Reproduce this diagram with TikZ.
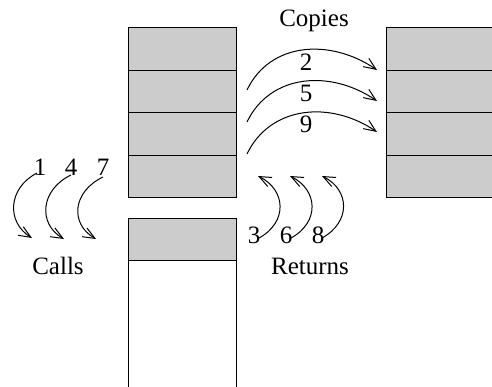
\documentclass[tikz,border=0pt]{standalone}
\usepackage{fontspec}
\setmainfont{Liberation Serif}
\usetikzlibrary{arrows.meta}
\definecolor{stackgray}{RGB}{204,204,204}

\begin{document}
\begin{tikzpicture}[
    x=1pt,y=-1pt,
    cell/.style={draw,fill=stackgray,line width=0.8pt,anchor=north west,inner sep=0pt,minimum width=108pt,minimum height=42.5pt},
    lbl/.style={font=\fontsize{25}{29}\selectfont,inner sep=0pt,anchor=base},
    flow/.style={->,line width=1pt,>={Straight Barb[length=12pt,width=10pt]}},
]
\useasboundingbox (0,0) rectangle (492,386);

% Left stack
\node[cell] (s1) at (128,27) {};
\node[cell] (s2) at (128,69.5) {};
\node[cell] (s3) at (128,112) {};
\node[cell] (s4) at (128,154.5) {};

% Lower stack
\node[cell] (t1) at (128,218) {};
\node[cell,fill=white,minimum height=140pt] (t2) at (128,260) {};

% Right stack
\node[cell,minimum width=120pt] (c1) at (386,27) {};
\node[cell,minimum width=120pt] (c2) at (386,69.5) {};
\node[cell,minimum width=120pt] (c3) at (386,112) {};
\node[cell,minimum width=120pt] (c4) at (386,154.5) {};

% Labels
\node[lbl] (copies) at (314,26) {Copies};
\node[lbl] (calls) at (58,274) {Calls};
\node[lbl] (returns) at (310,274) {Returns};

% Copies
\coordinate (a2) at (247,90);   \coordinate (b2) at (377,70);
\coordinate (a5) at (247,122);  \coordinate (b5) at (377,101);
\coordinate (a9) at (247,154);  \coordinate (b9) at (377,132);
\draw[flow] (a2) .. controls (270,42) and (330,38) .. (b2);
\draw[flow] (a5) .. controls (270,74) and (330,69) .. (b5);
\draw[flow] (a9) .. controls (270,106) and (330,100) .. (b9);
\node[lbl] (n2) at (306,70) {2};
\node[lbl] (n5) at (306,101) {5};
\node[lbl] (n9) at (306,132) {9};

% Calls
\coordinate (p1) at (37,173);  \coordinate (q1) at (32,238);
\coordinate (p4) at (71,175);  \coordinate (q4) at (64,239);
\coordinate (p7) at (103,177); \coordinate (q7) at (96,239);
\draw[flow] (p1) .. controls (8,188) and (6,222) .. (q1);
\draw[flow] (p4) .. controls (40,190) and (38,224) .. (q4);
\draw[flow] (p7) .. controls (72,192) and (70,224) .. (q7);
\node[lbl] (n1) at (40,175) {1};
\node[lbl] (n4) at (71,175) {4};
\node[lbl] (n7) at (103,175) {7};

% Returns
\coordinate (r3) at (259,238); \coordinate (u3) at (258,176);
\coordinate (r6) at (291,238); \coordinate (u6) at (290,176);
\coordinate (r8) at (322,238); \coordinate (u8) at (322,176);
\draw[flow] (r3) .. controls (288,222) and (286,190) .. (u3);
\draw[flow] (r6) .. controls (320,222) and (318,190) .. (u6);
\draw[flow] (r8) .. controls (351,222) and (350,190) .. (u8);
\node[lbl] (n3) at (254,243) {3};
\node[lbl] (n6) at (286,243) {6};
\node[lbl] (n8) at (318,243) {8};

\end{tikzpicture}
\end{document}
